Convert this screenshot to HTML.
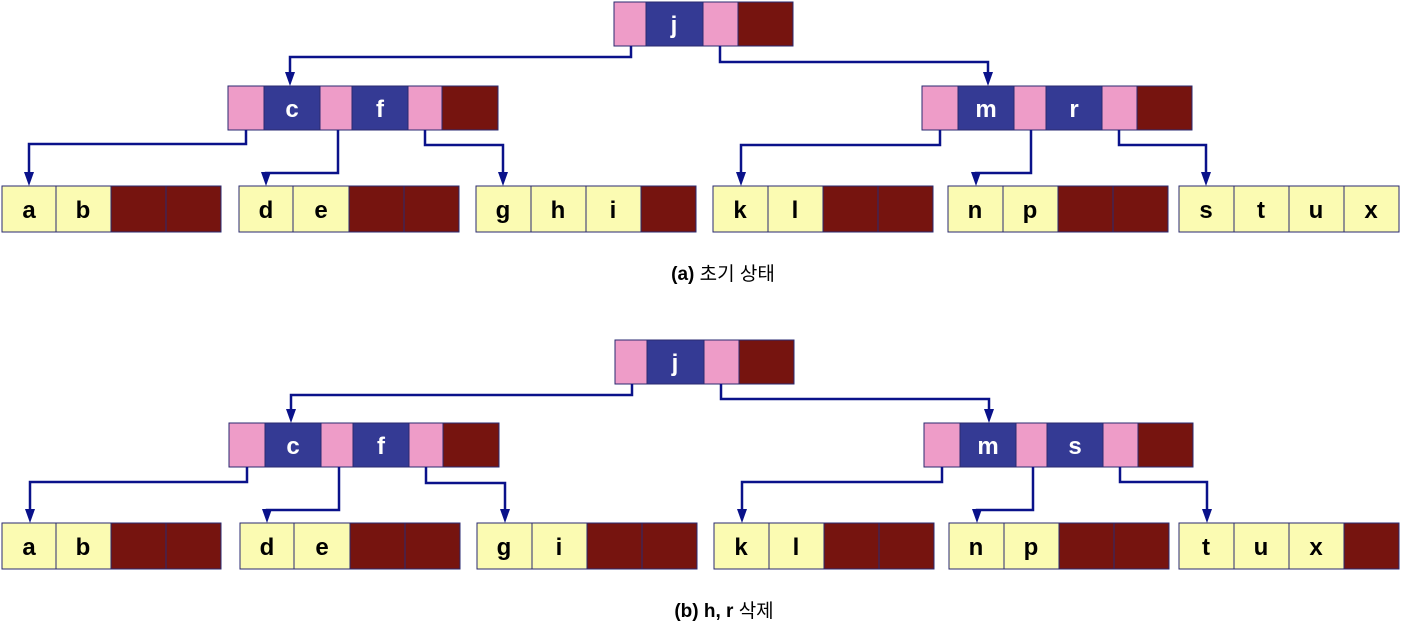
<!DOCTYPE html>
<html><head><meta charset="utf-8"><style>
html,body{margin:0;padding:0;background:#fff;}
svg{display:block}
.k{font-family:"Liberation Sans",sans-serif;font-weight:bold;font-size:24px;text-anchor:middle;}
.w{fill:#fff}.b{fill:#000}
.p{fill:#ee9cc8}.u{fill:#343a94}.d{fill:#76140f}.y{fill:#fbfbb2}
rect{stroke:#2a2a70;stroke-width:1}
.l{fill:none;stroke:#0a128a;stroke-width:2.5}
.cap{font-family:"Liberation Sans","Noto Sans CJK KR",sans-serif;font-size:19px;text-anchor:middle;}
</style></head><body>
<svg width="1401" height="627" viewBox="0 0 1401 627" xmlns="http://www.w3.org/2000/svg">
<defs><marker id="a" markerWidth="10" markerHeight="14" refX="5" refY="13" orient="auto-start-reverse" markerUnits="userSpaceOnUse" viewBox="0 0 10 14"><path d="M0,0 L10,0 L5,14 Z" fill="#0a128a" transform="rotate(0)"/></marker></defs>

<!-- ===== (a) ===== -->
<g>
<rect class="p" x="614" y="2" width="32" height="44"/><rect class="u" x="646" y="2" width="57" height="44"/><rect class="p" x="703" y="2" width="35" height="44"/><rect class="d" x="738" y="2" width="55" height="44"/>
<text class="k w" x="674" y="33">j</text>
<path class="l" d="M631,46 V57 H290 V74"/><path d="M285,72 L295,72 L290,86 Z" fill="#0a128a"/>
<path class="l" d="M720,46 V62 H988 V74"/><path d="M983,72 L993,72 L988,86 Z" fill="#0a128a"/>

<rect class="p" x="228" y="86" width="36" height="44"/><rect class="u" x="264" y="86" width="56" height="44"/><rect class="p" x="320" y="86" width="32" height="44"/><rect class="u" x="352" y="86" width="56" height="44"/><rect class="p" x="408" y="86" width="34" height="44"/><rect class="d" x="442" y="86" width="56" height="44"/>
<text class="k w" x="292" y="117">c</text><text class="k w" x="380" y="117">f</text>
<rect class="p" x="922" y="86" width="36" height="44"/><rect class="u" x="958" y="86" width="56" height="44"/><rect class="p" x="1014" y="86" width="32" height="44"/><rect class="u" x="1046" y="86" width="56" height="44"/><rect class="p" x="1102" y="86" width="35" height="44"/><rect class="d" x="1137" y="86" width="55" height="44"/>
<text class="k w" x="986" y="117">m</text><text class="k w" x="1074" y="117">r</text>

<path class="l" d="M246,130 V144 H29 V174"/><path d="M24,172 L34,172 L29,186 Z" fill="#0a128a"/>
<path class="l" d="M338,130 V173 H266 V176"/><path d="M261,172 L271,172 L266,186 Z" fill="#0a128a"/>
<path class="l" d="M425,130 V145 H503 V174"/><path d="M498,172 L508,172 L503,186 Z" fill="#0a128a"/>
<path class="l" d="M940,130 V145 H741 V174"/><path d="M736,172 L746,172 L741,186 Z" fill="#0a128a"/>
<path class="l" d="M1031,130 V173 H976 V176"/><path d="M971,172 L981,172 L976,186 Z" fill="#0a128a"/>
<path class="l" d="M1119,130 V145 H1206 V174"/><path d="M1201,172 L1211,172 L1206,186 Z" fill="#0a128a"/>

<rect class="y" x="2" y="186" width="54" height="46"/><rect class="y" x="56" y="186" width="55" height="46"/><rect class="d" x="111" y="186" width="55" height="46"/><rect class="d" x="166" y="186" width="55" height="46"/>
<text class="k b" x="29" y="218">a</text><text class="k b" x="83" y="218">b</text>
<rect class="y" x="239" y="186" width="54" height="46"/><rect class="y" x="293" y="186" width="56" height="46"/><rect class="d" x="349" y="186" width="55" height="46"/><rect class="d" x="404" y="186" width="55" height="46"/>
<text class="k b" x="266" y="218">d</text><text class="k b" x="321" y="218">e</text>
<rect class="y" x="476" y="186" width="55" height="46"/><rect class="y" x="531" y="186" width="55" height="46"/><rect class="y" x="586" y="186" width="55" height="46"/><rect class="d" x="641" y="186" width="55" height="46"/>
<text class="k b" x="503" y="218">g</text><text class="k b" x="558" y="218">h</text><text class="k b" x="613" y="218">i</text>
<rect class="y" x="713" y="186" width="55" height="46"/><rect class="y" x="768" y="186" width="55" height="46"/><rect class="d" x="823" y="186" width="55" height="46"/><rect class="d" x="878" y="186" width="55" height="46"/>
<text class="k b" x="740" y="218">k</text><text class="k b" x="795" y="218">l</text>
<rect class="y" x="948" y="186" width="55" height="46"/><rect class="y" x="1003" y="186" width="55" height="46"/><rect class="d" x="1058" y="186" width="55" height="46"/><rect class="d" x="1113" y="186" width="55" height="46"/>
<text class="k b" x="975" y="218">n</text><text class="k b" x="1030" y="218">p</text>
<rect class="y" x="1179" y="186" width="55" height="46"/><rect class="y" x="1234" y="186" width="55" height="46"/><rect class="y" x="1289" y="186" width="55" height="46"/><rect class="y" x="1344" y="186" width="55" height="46"/>
<text class="k b" x="1206" y="218">s</text><text class="k b" x="1261" y="218">t</text><text class="k b" x="1316" y="218">u</text><text class="k b" x="1371" y="218">x</text>

<text class="cap" x="723" y="280"><tspan font-weight="bold">(a)</tspan> 초기 상태</text>
</g>

<!-- ===== (b) ===== -->
<g>
<rect class="p" x="615" y="340" width="32" height="44"/><rect class="u" x="647" y="340" width="57" height="44"/><rect class="p" x="704" y="340" width="35" height="44"/><rect class="d" x="739" y="340" width="55" height="44"/>
<text class="k w" x="675" y="371">j</text>
<path class="l" d="M632,384 V395 H291 V411"/><path d="M286,409 L296,409 L291,423 Z" fill="#0a128a"/>
<path class="l" d="M721,384 V399 H989 V411"/><path d="M984,409 L994,409 L989,423 Z" fill="#0a128a"/>

<rect class="p" x="229" y="423" width="36" height="44"/><rect class="u" x="265" y="423" width="56" height="44"/><rect class="p" x="321" y="423" width="32" height="44"/><rect class="u" x="353" y="423" width="56" height="44"/><rect class="p" x="409" y="423" width="34" height="44"/><rect class="d" x="443" y="423" width="56" height="44"/>
<text class="k w" x="293" y="454">c</text><text class="k w" x="381" y="454">f</text>
<rect class="p" x="924" y="423" width="36" height="44"/><rect class="u" x="960" y="423" width="56" height="44"/><rect class="p" x="1016" y="423" width="31" height="44"/><rect class="u" x="1047" y="423" width="56" height="44"/><rect class="p" x="1103" y="423" width="35" height="44"/><rect class="d" x="1138" y="423" width="55" height="44"/>
<text class="k w" x="988" y="454">m</text><text class="k w" x="1075" y="454">s</text>

<path class="l" d="M247,467 V482 H30 V511"/><path d="M25,509 L35,509 L30,523 Z" fill="#0a128a"/>
<path class="l" d="M339,467 V510 H267 V513"/><path d="M262,509 L272,509 L267,523 Z" fill="#0a128a"/>
<path class="l" d="M426,467 V483 H505 V511"/><path d="M500,509 L510,509 L505,523 Z" fill="#0a128a"/>
<path class="l" d="M942,467 V482 H742 V511"/><path d="M737,509 L747,509 L742,523 Z" fill="#0a128a"/>
<path class="l" d="M1033,467 V510 H977 V513"/><path d="M972,509 L982,509 L977,523 Z" fill="#0a128a"/>
<path class="l" d="M1120,467 V482 H1207 V511"/><path d="M1202,509 L1212,509 L1207,523 Z" fill="#0a128a"/>

<rect class="y" x="2" y="523" width="54" height="46"/><rect class="y" x="56" y="523" width="55" height="46"/><rect class="d" x="111" y="523" width="55" height="46"/><rect class="d" x="166" y="523" width="55" height="46"/>
<text class="k b" x="29" y="555">a</text><text class="k b" x="83" y="555">b</text>
<rect class="y" x="240" y="523" width="54" height="46"/><rect class="y" x="294" y="523" width="56" height="46"/><rect class="d" x="350" y="523" width="55" height="46"/><rect class="d" x="405" y="523" width="55" height="46"/>
<text class="k b" x="267" y="555">d</text><text class="k b" x="322" y="555">e</text>
<rect class="y" x="477" y="523" width="55" height="46"/><rect class="y" x="532" y="523" width="55" height="46"/><rect class="d" x="587" y="523" width="55" height="46"/><rect class="d" x="642" y="523" width="55" height="46"/>
<text class="k b" x="504" y="555">g</text><text class="k b" x="559" y="555">i</text>
<rect class="y" x="714" y="523" width="55" height="46"/><rect class="y" x="769" y="523" width="55" height="46"/><rect class="d" x="824" y="523" width="55" height="46"/><rect class="d" x="879" y="523" width="55" height="46"/>
<text class="k b" x="741" y="555">k</text><text class="k b" x="796" y="555">l</text>
<rect class="y" x="949" y="523" width="55" height="46"/><rect class="y" x="1004" y="523" width="55" height="46"/><rect class="d" x="1059" y="523" width="55" height="46"/><rect class="d" x="1114" y="523" width="55" height="46"/>
<text class="k b" x="976" y="555">n</text><text class="k b" x="1031" y="555">p</text>
<rect class="y" x="1179" y="523" width="55" height="46"/><rect class="y" x="1234" y="523" width="55" height="46"/><rect class="y" x="1289" y="523" width="55" height="46"/><rect class="d" x="1344" y="523" width="55" height="46"/>
<text class="k b" x="1206" y="555">t</text><text class="k b" x="1261" y="555">u</text><text class="k b" x="1316" y="555">x</text>

<text class="cap" x="724" y="617"><tspan font-weight="bold">(b) h, r</tspan> 삭제</text>
</g>
</svg>
</body></html>
